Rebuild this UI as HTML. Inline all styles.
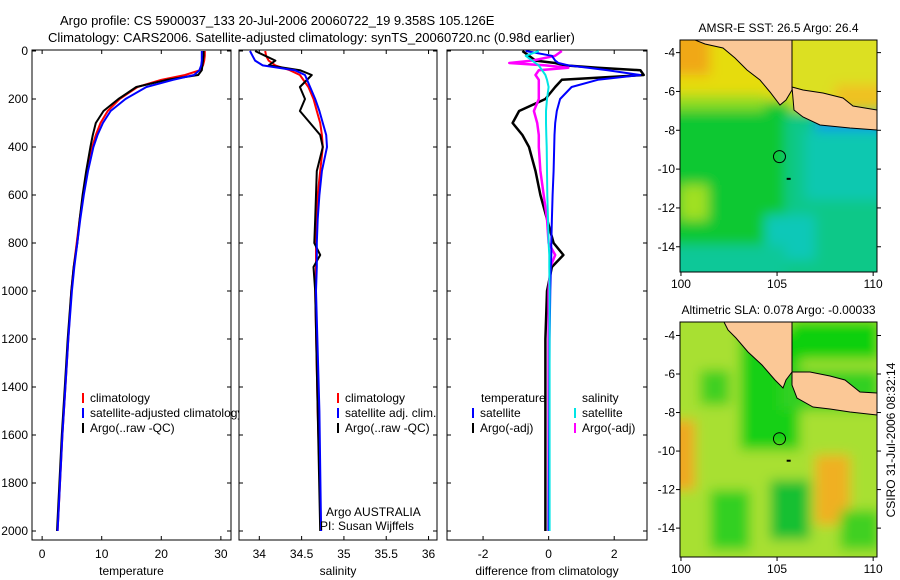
<!DOCTYPE html>
<html><head><meta charset="utf-8">
<style>
html,body{margin:0;padding:0;background:#fff;}
svg{display:block;font-family:"Liberation Sans",sans-serif;}
text{font-size:12px;fill:#000;}
</style></head>
<body>
<svg id="fig" width="900" height="580" viewBox="0 0 900 580">
<text x="60" y="25" style="font-size:13px">Argo profile: CS 5900037_133 20-Jul-2006 20060722_19 9.358S 105.126E</text>
<text x="48" y="42" style="font-size:13px">Climatology: CARS2006. Satellite-adjusted climatology: synTS_20060720.nc (0.98d earlier)</text>
<g id="p1"></g>
<g id="p2"></g>
<g id="p3"></g>
<g id="m1"></g>
<g id="m2"></g>
<text transform="translate(895,440) rotate(-90)" text-anchor="middle">CSIRO 31-Jul-2006 08:32:14</text>
</svg>
<script>
// ---- data ----
const depthsT = [0,20,40,60,80,100,120,150,200,250,300,350,400,500,600,700,800,900,1000,1200,1400,1600,1800,2000];
const tempClim = [27.3,27.3,27.2,27.0,26.5,24,20,16,13,11,9.8,9,8.4,7.6,6.9,6.3,5.8,5.3,4.9,4.4,3.9,3.4,3.0,2.6];
const tempSat  = [26.8,26.8,26.8,26.7,26.4,25.5,22,17.5,14,11.5,10.2,9.3,8.6,7.7,7.0,6.4,5.9,5.4,5.0,4.4,3.9,3.4,3.0,2.6];
const tempArgo = [27.1,27.1,27.0,26.9,26.8,26.2,21,15.8,12.8,10.3,9.0,8.5,8.1,7.4,6.8,6.3,5.9,5.3,4.9,4.3,3.8,3.3,2.9,2.5];
const depthsS = [0,20,40,60,80,100,150,200,250,300,350,400,500,600,700,800,850,900,1000,1500,2000];
const salArgo = [33.95,34.07,34.19,34.11,34.48,34.62,34.48,34.54,34.48,34.60,34.72,34.75,34.68,34.67,34.66,34.65,34.72,34.64,34.66,34.69,34.72];
const salClim = [34.07,34.08,34.11,34.19,34.36,34.48,34.58,34.64,34.68,34.72,34.74,34.75,34.72,34.69,34.68,34.67,34.67,34.67,34.66,34.69,34.73];
const salSat  = [33.89,33.92,33.95,34.04,34.42,34.54,34.60,34.66,34.71,34.75,34.79,34.80,34.74,34.71,34.69,34.68,34.68,34.68,34.67,34.71,34.73];
const depthsD = [0,20,40,50,60,70,80,100,120,150,200,250,300,350,400,500,600,700,800,850,900,1000,1200,1500,2000];
const dTempArgo = [-0.8,-0.6,-0.4,0.2,0.5,1.5,2.8,2.9,0.4,0.2,-0.1,-0.9,-1.1,-0.8,-0.6,-0.4,-0.25,-0.05,0.15,0.45,0.1,-0.05,-0.1,-0.1,-0.1];
const dTempSat  = [-0.7,0.1,0.2,0.3,0.6,1.2,1.8,2.8,1.5,0.7,0.35,0.25,0.2,0.18,0.17,0.15,0.12,0.1,0.08,0.08,0.07,0.05,0.03,0.02,0.0];
const dSalArgo  = [0.4,0.2,-0.5,-1.2,-0.1,0.6,-0.3,-0.4,-0.3,-0.3,-0.3,-0.45,-0.35,-0.3,-0.3,-0.25,-0.15,-0.05,0,0.2,0.05,0,0,0,0];
const dSalSat   = [-0.3,-0.7,-0.5,-0.4,-0.3,-0.25,-0.2,-0.1,-0.05,0,-0.05,-0.08,-0.08,-0.07,-0.06,-0.05,-0.04,-0.02,0,0.02,0.02,0.03,0.03,0.03,0.03];
const depthTicks = [0,200,400,600,800,1000,1200,1400,1600,1800,2000];
const tempTicks = [0,10,20,30];
const salTicks = [34,34.5,35,35.5,36];
const diffTicks = [-2,0,2];
const lonTicks = [100,105,110];
const latTicks = [-4,-6,-8,-10,-12,-14];
const floatLon = 105.126, floatLat = -9.358;

const NS="http://www.w3.org/2000/svg";
function mk(parent,tag,attrs){const e=document.createElementNS(NS,tag);for(const k in attrs)e.setAttribute(k,attrs[k]);parent.appendChild(e);return e;}
const yD = d => 51 + d*0.24;

function panel(g,x0,x1,xmin,xmax,ticks,xlabel,showY){
  const xs = v => x0 + (v-xmin)/(xmax-xmin)*(x1-x0);
  const r=mk(g,'rect',{x:x0,y:50,width:x1-x0,height:490,fill:'#fff',stroke:'#000','stroke-width':1});
  
  
  depthTicks.forEach(d=>{
    mk(g,'line',{x1:x0,x2:x0+4,y1:yD(d),y2:yD(d),stroke:'#000'});
    mk(g,'line',{x1:x1,x2:x1-4,y1:yD(d),y2:yD(d),stroke:'#000'});
    if(showY){const t=mk(g,'text',{x:x0-4,y:yD(d)+4,'text-anchor':'end'});t.textContent=d;
      
      }
  });
  ticks.forEach(v=>{
    mk(g,'line',{x1:xs(v),x2:xs(v),y1:540,y2:536,stroke:'#000'});
    mk(g,'line',{x1:xs(v),x2:xs(v),y1:50,y2:54,stroke:'#000'});
    const t=mk(g,'text',{x:xs(v),y:558,'text-anchor':'middle'});t.textContent=v;
    
    
  });
  const l=mk(g,'text',{x:(x0+x1)/2,y:575,'text-anchor':'middle'});l.textContent=xlabel;
  
  
  return xs;
}
function line(g,xs,depths,vals,color,name,w){
  const pts=depths.map((d,i)=>xs(vals[i]).toFixed(1)+','+yD(d).toFixed(1)).join(' ');
  const p=mk(g,'polyline',{points:pts,fill:'none',stroke:color,'stroke-width':w||2,'stroke-linejoin':'round'});
  
  
}
function legend(g,x,y,color,label,name){
  mk(g,'line',{x1:x,x2:x,y1:y-9,y2:y+1,stroke:color,'stroke-width':2});
  const t=mk(g,'text',{x:x+7,y:y});t.textContent=label;
  
  
}
// Panel 1
const g1=document.getElementById('p1');
const xs1=panel(g1,32,231,-1.7,31.7,tempTicks,'temperature',true);
line(g1,xs1,depthsT,tempClim,'#ff0000','temp-climatology-line');
line(g1,xs1,depthsT,tempArgo,'#000000','temp-argo-line');
line(g1,xs1,depthsT,tempSat,'#0000ff','temp-satellite-line');
legend(g1,83,402,'#ff0000','climatology','legend-climatology');
legend(g1,83,417,'#0000ff','satellite-adjusted climatology','legend-satellite');
legend(g1,83,432,'#000000','Argo(..raw -QC)','legend-argo');
// Panel 2
const g2=document.getElementById('p2');
const xs2=panel(g2,239,437,33.76,36.1,salTicks,'salinity',false);
line(g2,xs2,depthsS,salClim,'#ff0000','sal-climatology-line');
line(g2,xs2,depthsS,salArgo,'#000000','sal-argo-line');
line(g2,xs2,depthsS,salSat,'#0000ff','sal-satellite-line');
legend(g2,338,402,'#ff0000','climatology','legend-climatology');
legend(g2,338,417,'#0000ff','satellite adj. clim.','legend-satellite');
legend(g2,338,432,'#000000','Argo(..raw -QC)','legend-argo');
let t=mk(g2,'text',{x:326,y:516});t.textContent='Argo AUSTRALIA';
t=mk(g2,'text',{x:320,y:530});t.textContent='PI: Susan Wijffels';
// Panel 3
const g3=document.getElementById('p3');
const xs3=panel(g3,447,647,-3.1,3.0,diffTicks,'difference from climatology',false);
line(g3,xs3,depthsD,dTempArgo,'#000000','diff-temp-argo-line',2.5);
line(g3,xs3,depthsD,dSalArgo,'#ff00ff','diff-sal-argo-line',2.5);
line(g3,xs3,depthsD,dTempSat,'#0000ff','diff-temp-satellite-line');
line(g3,xs3,depthsD,dSalSat,'#00e5e5','diff-sal-satellite-line');
t=mk(g3,'text',{x:481,y:402});t.textContent='temperature';
t=mk(g3,'text',{x:582,y:402});t.textContent='salinity';
legend(g3,473,417,'#0000ff','satellite','legend-temp-satellite');
legend(g3,473,432,'#000000','Argo(-adj)','legend-temp-argo');
legend(g3,575,417,'#00e5e5','satellite','legend-sal-satellite');
legend(g3,575,432,'#ff00ff','Argo(-adj)','legend-sal-argo');

// Maps
function map(g,top,bottom,latTop,latBot,title,blobs,land){
  const x0=680,x1=877,lonMin=99.95,lonMax=110.2;
  const lx=v=>x0+(v-lonMin)/(lonMax-lonMin)*(x1-x0);
  const ly=v=>top+(latTop-v)/(latTop-latBot)*(bottom-top);
  const id='clip'+top;
  const defs=mk(g,'defs',{});
  const f=mk(defs,'filter',{id:'bl'+top,x:'-20%',y:'-20%',width:'140%',height:'140%'});
  mk(f,'feGaussianBlur',{stdDeviation:6});
  const cp=mk(defs,'clipPath',{id:id});mk(cp,'rect',{x:x0,y:top,width:x1-x0,height:bottom-top});
  const inner=mk(g,'g',{'clip-path':'url(#'+id+')'});
  const bg=mk(inner,'g',{filter:'url(#bl'+top+')'});
  blobs.forEach(b=>{mk(bg,b[0],b[1]);});
  land.forEach(pts=>{const p=mk(inner,'polygon',{points:pts,fill:'#fbc896',stroke:'#000','stroke-width':1});
    
    });
  const c=mk(inner,'circle',{cx:lx(floatLon),cy:ly(floatLat),r:6,fill:'none',stroke:'#000','stroke-width':1});
  
  
  mk(inner,'rect',{x:lx(105.5),y:ly(-10.45),width:4,height:2,fill:'#000'});
  mk(g,'rect',{x:x0,y:top,width:x1-x0,height:bottom-top,fill:'none',stroke:'#000'});
  lonTicks.forEach(v=>{mk(g,'line',{x1:lx(v),x2:lx(v),y1:bottom,y2:bottom+4,stroke:'#000'});
    const tt=mk(g,'text',{x:lx(v),y:bottom+16,'text-anchor':'middle'});tt.textContent=v;});
  latTicks.forEach(v=>{mk(g,'line',{x1:x0-4,x2:x0,y1:ly(v),y2:ly(v),stroke:'#000'});
    mk(g,'line',{x1:x1,x2:x1+4,y1:ly(v),y2:ly(v),stroke:'#000'});
    const tt=mk(g,'text',{x:x0-5,y:ly(v)+4,'text-anchor':'end'});tt.textContent=v;});
  const tt=mk(g,'text',{x:(x0+x1)/2,y:top-8,'text-anchor':'middle'});tt.textContent=title;
  
  
}
map(document.getElementById('m1'),40,272,-3.35,-15.3,'AMSR-E SST: 26.5 Argo: 26.4',[
 ['rect',{x:660,y:20,width:240,height:270,fill:'#10c830'}],
 ['rect',{x:660,y:20,width:135,height:80,fill:'#e6dc10'}],
 ['rect',{x:660,y:20,width:50,height:55,fill:'#f0a818'}],
 ['rect',{x:790,y:20,width:110,height:90,fill:'#dce020'}],
 ['rect',{x:835,y:85,width:50,height:22,fill:'#f0c020'}],
 ['rect',{x:665,y:95,width:100,height:15,fill:'#90dc20'}],
 ['rect',{x:785,y:115,width:110,height:170,fill:'#10c888'}],
 ['rect',{x:805,y:130,width:80,height:70,fill:'#08c8b0'}],
 ['rect',{x:815,y:118,width:70,height:12,fill:'#1890f0'}],
 ['rect',{x:765,y:215,width:50,height:45,fill:'#10c8b8'}],
 ['rect',{x:680,y:185,width:28,height:35,fill:'#a0e020'}],
 ['rect',{x:665,y:245,width:120,height:40,fill:'#10c898'}]
],[
 '690,38 792,38 792,90 786,100 780,105 770,92 760,80 747,70 735,58 723,48 705,44',
 '792,87 803,90 823,93 843,98 853,106 877,110 877,130 850,128 820,125 803,117 794,110'
]);
map(document.getElementById('m2'),322,557,-3.3,-15.5,'Altimetric SLA: 0.078 Argo: -0.00033',[
 ['rect',{x:660,y:300,width:240,height:280,fill:'#a8e030'}],
 ['rect',{x:740,y:330,width:60,height:120,fill:'#18d018'}],
 ['rect',{x:780,y:370,width:100,height:40,fill:'#30d020'}],
 ['rect',{x:790,y:320,width:90,height:40,fill:'#08d008'}],
 ['rect',{x:700,y:370,width:30,height:35,fill:'#40d020'}],
 ['rect',{x:660,y:420,width:35,height:70,fill:'#f0a820'}],
 ['rect',{x:815,y:455,width:35,height:70,fill:'#f0b020'}],
 ['rect',{x:770,y:480,width:40,height:60,fill:'#18c030'}],
 ['rect',{x:710,y:490,width:40,height:60,fill:'#30d020'}],
 ['rect',{x:840,y:510,width:40,height:40,fill:'#40d020'}]
],[
 '723,320 792,320 792,372 786,380 783,388 775,380 762,365 748,352 736,338 728,330',
 '792,372 810,372 830,376 845,380 860,392 877,393 877,415 850,412 830,409 813,407 797,398 792,385'
]);
</script>
</body></html>
